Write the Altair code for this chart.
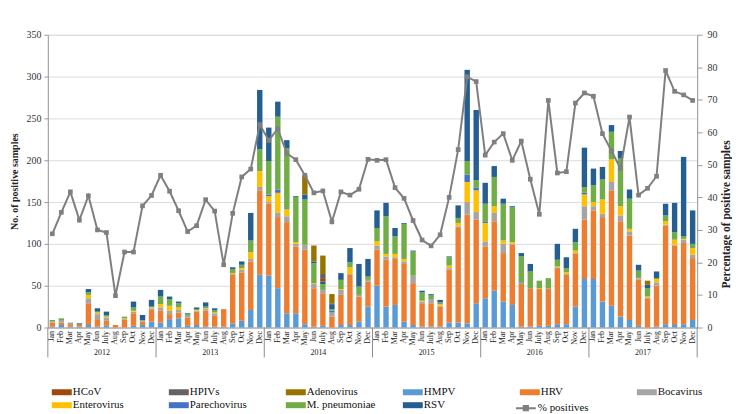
import altair as alt
import pandas as pd

months = ["Jan", "Feb", "Mar", "Apr", "May", "Jun", "July", "Aug", "Sep", "Oct", "Nov", "Dec"]
years = [2012, 2013, 2014, 2015, 2016, 2017]
keys = [f"{m}|{y}" for y in years for m in months]

hmpv = [1, 3, 1, 1, 3, 1, 2, 0, 0, 2, 3, 7,
        6, 10, 11, 2, 3, 1, 1, 1, 5, 8, 21, 63,
        62, 47, 17, 17, 4, 1, 2, 0, 3, 3, 7, 25,
        50, 25, 27, 7, 3, 1, 1, 1, 6, 6, 5, 29,
        35, 44, 31, 27, 1, 1, 2, 2, 4, 4, 25, 58,
        58, 31, 26, 13, 9, 2, 0, 1, 4, 3, 4, 9]
hrv = [5, 3, 3, 2, 26, 9, 6, 3, 9, 15, 4, 14,
       14, 6, 7, 10, 16, 19, 13, 21, 58, 58, 58, 101,
       86, 85, 109, 80, 89, 46, 39, 13, 36, 60, 30, 30,
       43, 56, 55, 69, 50, 28, 28, 24, 63, 113, 130, 100,
       62, 83, 58, 72, 51, 46, 44, 44, 67, 59, 63, 71,
       82, 101, 138, 114, 101, 55, 35, 49, 118, 95, 97, 74]
boca = [1, 3, 2, 0, 6, 6, 4, 0, 1, 2, 1, 2,
        4, 4, 3, 2, 1, 2, 3, 0, 1, 3, 3, 4,
        2, 5, 7, 3, 6, 5, 4, 5, 6, 1, 2, 2,
        5, 4, 2, 3, 9, 2, 5, 1, 2, 2, 15, 9,
        6, 10, 11, 1, 1, 0, 0, 1, 1, 1, 1, 16,
        5, 4, 10, 7, 5, 1, 1, 4, 1, 1, 4, 4]
entero = [0, 0, 0, 0, 4, 2, 1, 0, 1, 1, 0, 1,
          4, 6, 3, 0, 1, 1, 1, 0, 1, 2, 8, 19,
          7, 24, 8, 2, 0, 1, 0, 0, 1, 8, 0, 0,
          5, 3, 4, 3, 0, 1, 0, 2, 3, 4, 24, 26,
          22, 8, 4, 2, 0, 0, 1, 0, 1, 2, 3, 14,
          5, 17, 27, 11, 3, 1, 1, 4, 4, 6, 1, 8]
parecho = [0, 0, 0, 0, 0, 0, 0, 0, 0, 0, 0, 0,
           0, 0, 0, 0, 0, 0, 0, 0, 0, 0, 0, 0,
           2, 4, 0, 0, 0, 0, 0, 2, 0, 0, 0, 0,
           0, 0, 0, 0, 0, 0, 0, 0, 0, 0, 9, 3,
           2, 0, 0, 0, 1, 0, 0, 0, 0, 0, 0, 2,
           0, 0, 0, 0, 0, 1, 0, 0, 0, 0, 0, 0]
mpneu = [2, 2, 0, 1, 3, 1, 2, 0, 2, 4, 1, 1,
         9, 8, 5, 2, 1, 2, 3, 0, 5, 4, 14, 26,
         40, 87, 73, 54, 54, 24, 7, 2, 11, 6, 10, 4,
         16, 45, 21, 42, 29, 10, 5, 2, 10, 6, 16, 9,
         21, 35, 44, 42, 31, 20, 9, 12, 8, 5, 10, 7,
         20, 24, 33, 57, 36, 8, 10, 1, 7, 9, 3, 5]
rsv = [0, 0, 0, 1, 4, 4, 4, 0, 0, 7, 6, 8,
       8, 3, 2, 1, 2, 5, 2, 0, 2, 4, 33, 71,
       40, 18, 10, 1, 6, 2, 3, 5, 8, 17, 27, 21,
       21, 16, 10, 1, 1, 2, 1, 3, 1, 15, 109, 84,
       25, 13, 6, 1, 4, 9, 0, 0, 19, 13, 16, 47,
       20, 15, 8, 9, 11, 7, 4, 8, 14, 35, 95, 40]
hcov = [0, 0, 0, 0, 0, 0, 0, 0, 0, 0, 0, 0,
        0, 0, 0, 0, 0, 0, 0, 0, 0, 0, 0, 0,
        0, 0, 0, 0, 0, 0, 4, 0, 0, 0, 0, 0,
        0, 0, 0, 0, 0, 0, 0, 0, 0, 0, 0, 0,
        0, 0, 0, 0, 0, 0, 0, 0, 0, 0, 0, 0,
        0, 0, 0, 0, 0, 0, 0, 0, 0, 0, 0, 0]
hpiv = [0, 0, 0, 0, 0, 0, 0, 0, 0, 0, 0, 0,
        0, 0, 0, 0, 0, 0, 0, 0, 0, 0, 0, 0,
        0, 0, 0, 0, 0, 0, 5, 2, 0, 0, 0, 0,
        0, 0, 0, 0, 0, 0, 0, 0, 0, 0, 0, 0,
        0, 0, 0, 0, 0, 0, 0, 0, 0, 0, 0, 0,
        0, 0, 0, 0, 0, 0, 0, 0, 0, 0, 0, 0]
adeno = [0, 0, 0, 0, 0, 0, 0, 0, 0, 0, 0, 0,
         0, 0, 0, 0, 0, 0, 0, 0, 0, 0, 0, 0,
         0, 0, 0, 0, 23, 19, 22, 11, 0, 0, 0, 0,
         0, 0, 0, 0, 0, 0, 0, 0, 0, 0, 0, 0,
         0, 0, 0, 0, 0, 0, 0, 0, 0, 0, 0, 0,
         0, 0, 0, 0, 0, 0, 5, 0, 0, 0, 0, 0]
pct = [28.8, 35.4, 41.7, 33.0, 40.5, 30.0, 29.2, 9.8, 23.2, 23.2, 37.4, 40.6,
       46.8, 41.9, 35.9, 29.5, 31.3, 39.3, 35.8, 19.3, 35.1, 46.3, 48.7, 62.4,
       57.5, 61.1, 53.5, 51.6, 46.8, 41.4, 42.0, 32.5, 41.7, 40.7, 42.5, 51.7,
       51.4, 51.6, 43.0, 39.7, 32.9, 26.9, 25.1, 28.5, 40.0, 54.7, 77.1, 75.6,
       53.0, 57.0, 59.6, 51.4, 57.3, 45.6, 34.8, 69.8, 47.5, 47.9, 69.0, 72.1,
       71.1, 59.6, 54.3, 48.9, 64.7, 40.7, 42.8, 46.5, 79.0, 72.6, 71.5, 69.8]

legend_names = ["HCoV", "HPIVs", "Adenovirus", "HMPV", "HRV", "Bocavirus",
                "Enterovirus", "Parechovirus", "M. pneumoniae", "RSV"]
legend_colors = ["#9E480E", "#636363", "#997300", "#5B9BD5", "#ED7D31", "#A5A5A5",
                 "#FFC000", "#4472C4", "#70AD47", "#255E91"]
stack_names = ["HMPV", "HRV", "Bocavirus", "Enterovirus", "Parechovirus",
               "M. pneumoniae", "RSV", "HCoV", "HPIVs", "Adenovirus"]
series_values = {"HMPV": hmpv, "HRV": hrv, "Bocavirus": boca, "Enterovirus": entero,
                 "Parechovirus": parecho, "M. pneumoniae": mpneu, "RSV": rsv,
                 "HCoV": hcov, "HPIVs": hpiv, "Adenovirus": adeno}

rows = []
for order, name in enumerate(stack_names):
    for k, v in zip(keys, series_values[name]):
        if v > 0:
            rows.append({"key": k, "virus": name, "count": v, "ord": order})
bars_df = pd.DataFrame(rows)
line_df = pd.DataFrame({"key": keys, "pct": pct, "series": "% positives"})
year_df = pd.DataFrame({"key": [f"Jun|{y}" for y in years], "year": [str(y) for y in years]})
sep_df = pd.DataFrame({"key": [f"Dec|{y}" for y in years]})
first_df = pd.DataFrame({"key": ["Jan|2012"]})

FONT = "Liberation Serif"
xscale = alt.Scale(domain=keys, paddingInner=0, paddingOuter=0)
xaxis = alt.Axis(title=None, labelExpr="split(datum.value, '|')[0]", labelAngle=270,
                 labelFont=FONT, labelFontSize=8, labelColor="#222", ticks=False,
                 grid=False, domainColor="#9a9a9a", labelPadding=3)

bars = alt.Chart(bars_df).mark_bar(width=alt.RelativeBandSize(0.6)).encode(
    x=alt.X("key:N", scale=xscale, axis=xaxis),
    y=alt.Y("sum(count):Q", stack="zero",
            scale=alt.Scale(domain=[0, 350], nice=False),
            axis=alt.Axis(values=list(range(0, 351, 50)), title="No. of positive samples",
                          titleFont=FONT, titleFontSize=10, titleFontWeight="bold",
                          titleColor="#222", titlePadding=6,
                          labelFont=FONT, labelFontSize=10, labelColor="#333",
                          tickSize=4, tickColor="#9a9a9a", domainColor="#9a9a9a",
                          gridColor="#dcdcdc", labelPadding=3)),
    color=alt.Color("virus:N", scale=alt.Scale(domain=legend_names, range=legend_colors),
                    legend=alt.Legend(title=None, orient="none", legendX=7, legendY=352,
                                      direction="horizontal",
                                      columns=6, gridAlign="all", columnPadding=25.5,
                                      rowPadding=1,
                                      symbolType="M-1.43,-0.43H1.43V0.43H-1.43Z",
                                      symbolSize=196,
                                      symbolStrokeWidth=0, labelFont=FONT, labelFontSize=11,
                                      labelColor="#111", labelOffset=4)),
    order=alt.Order("ord:Q", sort="ascending"),
)

seps = alt.Chart(sep_df).mark_rule(color="#8c8c8c", strokeWidth=1).encode(
    x=alt.X("key:N", scale=xscale, axis=xaxis, bandPosition=1),
    y=alt.value(294), y2=alt.value(324))
first_sep = alt.Chart(first_df).mark_rule(color="#8c8c8c", strokeWidth=1).encode(
    x=alt.X("key:N", scale=xscale, axis=xaxis, bandPosition=0),
    y=alt.value(294), y2=alt.value(324))
year_text = alt.Chart(year_df).mark_text(font=FONT, fontSize=8, color="#222",
                                         baseline="middle").encode(
    x=alt.X("key:N", scale=xscale, axis=xaxis, bandPosition=1),
    y=alt.value(320), text="year:N")

right_axis = alt.Axis(orient="right", values=list(range(0, 91, 10)), grid=False,
                      title="Percentage of positive samples", titleAngle=270,
                      titleFont=FONT, titleFontSize=11.5, titleFontWeight="bold",
                      titleColor="#222", titlePadding=14, titleY=180,
                      labelFont=FONT, labelFontSize=10, labelColor="#333",
                      tickSize=5, tickColor="#9a9a9a", domainColor="#9a9a9a", labelPadding=5)
line = alt.Chart(line_df).mark_line(strokeWidth=2).encode(
    x=alt.X("key:N", scale=xscale, axis=xaxis),
    y=alt.Y("pct:Q", scale=alt.Scale(domain=[0, 90], nice=False), axis=right_axis),
    stroke=alt.Stroke("series:N", scale=alt.Scale(domain=["% positives"], range=["#7f7f7f"]),
                      legend=alt.Legend(title=None, orient="none", legendX=472, legendY=367,
                                        symbolType="M-1.43,0H1.43M-0.3,-0.3H0.3V0.3H-0.3Z",
                                        symbolSize=196, symbolStrokeWidth=2,
                                        symbolFillColor="#7f7f7f",
                                        labelFont=FONT, labelFontSize=11,
                                        labelColor="#111", labelOffset=4)),
)
pts = alt.Chart(line_df).mark_square(size=22, color="#7f7f7f", opacity=1).encode(
    x=alt.X("key:N", scale=xscale, axis=xaxis),
    y=alt.Y("pct:Q", scale=alt.Scale(domain=[0, 90], nice=False), axis=right_axis),
)
right = alt.layer(line, pts)

chart = alt.layer(bars, seps, first_sep, year_text, right).resolve_scale(
    y="independent"
).properties(
    width=652, height=294,
    padding={"left": 2, "top": 21, "right": 0, "bottom": 0},
).configure_view(stroke=None).configure(background="white")

chart.save("out.html", embed_options={"renderer": "svg", "actions": False})
